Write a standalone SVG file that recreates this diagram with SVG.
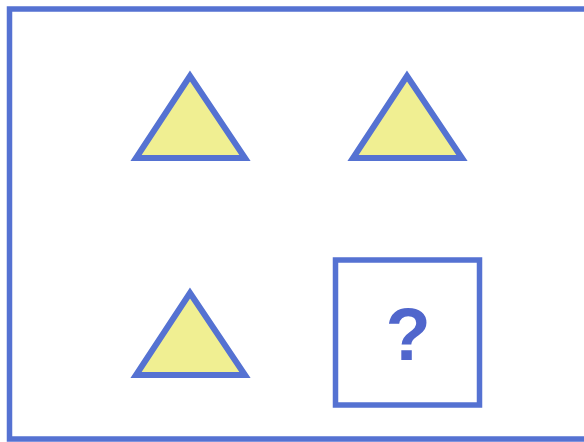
<svg xmlns="http://www.w3.org/2000/svg" width="584" height="442" viewBox="0 0 584 442">
<style>
.frame{fill:none;stroke:#5572d2;stroke-width:5.5}
.tri{fill:#f0ef92;stroke:#5572d2;stroke-width:6;stroke-linejoin:miter}
.q{font-family:"Liberation Sans",Arial,sans-serif;font-weight:bold;font-size:74px;fill:#5066cc;text-anchor:middle}
</style>
<rect width="584" height="442" fill="#ffffff"/>
<rect class="frame" x="9.5" y="9" width="584" height="430"/>
<g id="triangle1"><polygon class="tri" points="190,76 136,158 245,158"/></g>
<g id="triangle2"><polygon class="tri" points="407,76 353,158 462,158"/></g>
<g id="triangle3"><polygon class="tri" points="190,293 136,375 245,375"/></g>
<g id="unknown">
<rect class="frame" x="335.5" y="260" width="144" height="145"/>
<text class="q" x="408" y="360">?</text>
</g>
</svg>
